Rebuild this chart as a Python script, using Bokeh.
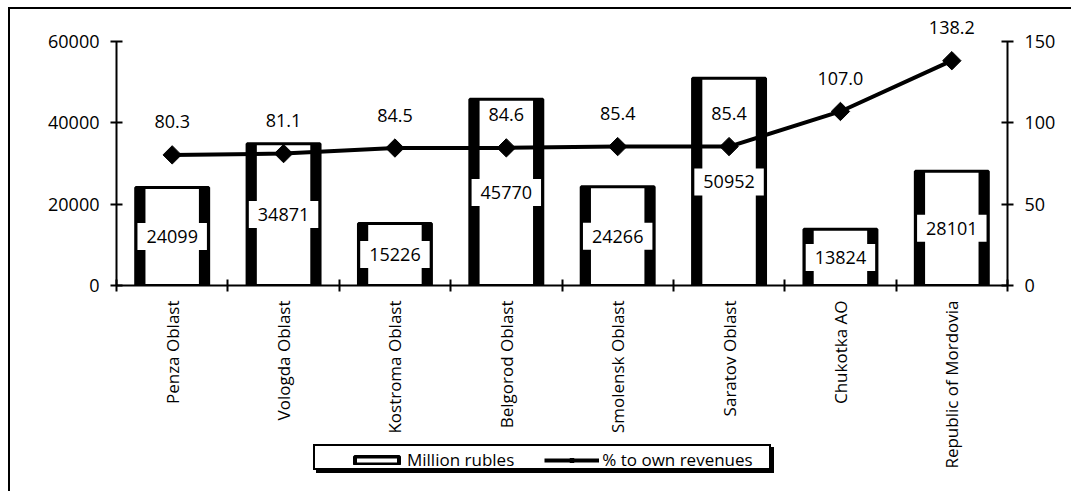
import numpy as np
from bokeh.plotting import figure
from bokeh.layouts import column
from bokeh.models import (Range1d, LinearAxis, FixedTicker, ColumnDataSource, Legend, LegendItem)
from bokeh.core.properties import value
from bokeh.embed import file_html
from bokeh.resources import INLINE

regions = ["Penza Oblast", "Vologda Oblast", "Kostroma Oblast", "Belgorod Oblast",
           "Smolensk Oblast", "Saratov Oblast", "Chukotka AO", "Republic of Mordovia"]
million_rubles = [24099, 34871, 15226, 45770, 24266, 50952, 13824, 28101]
pct_own_revenues = [80.3, 81.1, 84.5, 84.6, 85.4, 85.4, 107.0, 138.2]
left_ticks = [0, 20000, 40000, 60000]
right_ticks = [0, 50, 100, 150]
series_names = ["Million rubles", "% to own revenues"]

FONT = "Open Sans"
FS_TXT = "17px"
FS_NUM = "18px"

n = len(regions)
xc = [i + 0.5 for i in range(n)]
src = ColumnDataSource(dict(
    x=xc,
    val=million_rubles,
    mid=[v / 2 for v in million_rubles],
    lab=[str(v) for v in million_rubles],
    pct=pct_own_revenues,
    plab=["%.1f" % v for v in pct_own_revenues],
))

# frame is taller than the axes (room for the top value label); axes stop at their last tick
FRAME_H = 267
AXIS_H = 244
lmax = left_ticks[-1] * FRAME_H / AXIS_H
rmax = right_ticks[-1] * FRAME_H / AXIS_H

p = figure(width=1063, height=484, output_backend="svg", toolbar_location=None,
           x_range=Range1d(0, n), y_range=Range1d(0, lmax),
           min_border_left=106, min_border_right=66, min_border_top=9, min_border_bottom=208)
p.frame_align = False
p.styles = {"border-left": "2px solid black", "border-top": "2px solid black"}
p.margin = (7, 0, 0, 8)
p.extra_y_ranges = {"pct": Range1d(0, rmax)}
p.xgrid.visible = False
p.ygrid.visible = False
p.outline_line_color = None
p.background_fill_color = "white"
p.border_fill_color = "white"
p.xaxis.visible = False
p.yaxis.visible = False

def style_axis(ax, fs):
    ax.axis_line_width = 2
    ax.axis_line_color = "black"
    ax.major_tick_line_width = 2
    ax.major_tick_line_color = "black"
    ax.major_tick_in = 6
    ax.major_tick_out = 6
    ax.minor_tick_line_color = None
    ax.major_label_text_font = FONT
    ax.major_label_text_font_size = fs
    ax.major_label_text_color = "black"

yl = LinearAxis(ticker=FixedTicker(ticks=left_ticks), bounds=(left_ticks[0], left_ticks[-1]))
style_axis(yl, FS_NUM)
yl.major_label_standoff = 11
p.add_layout(yl, "left")

yr = LinearAxis(y_range_name="pct", ticker=FixedTicker(ticks=right_ticks),
                bounds=(right_ticks[0], right_ticks[-1]))
style_axis(yr, FS_NUM)
yr.major_label_standoff = 11
p.add_layout(yr, "right")

xa = LinearAxis(ticker=FixedTicker(ticks=xc, minor_ticks=list(range(n + 1))))
style_axis(xa, FS_TXT)
xa.major_tick_line_color = None
xa.minor_tick_line_color = "black"
xa.minor_tick_line_width = 2
xa.minor_tick_in = 6
xa.minor_tick_out = 6
xa.major_label_orientation = np.pi / 2
xa.major_label_standoff = 9
xa.major_label_overrides = {x: r for x, r in zip(xc, regions)}
p.add_layout(xa, "below")

# bars
p.vbar(x="x", top="val", bottom=0, width=0.655, source=src, fill_color="black", line_color=None)
p.vbar(x="x", top="val", bottom=0, width=0.48, source=src, fill_color="white", line_color=None)
p.vbar(x="x", top="val", bottom=0, width=0.655, source=src, fill_alpha=0,
       line_color="black", line_width=3)
p.text(x="x", y="mid", text="lab", source=src, text_align="center", text_baseline="middle",
       text_font=value(FONT), text_font_size=FS_NUM, text_color="black",
       background_fill_color="white", padding=dict(left=9, right=9, top=7, bottom=7))

# line
p.line(x="x", y="pct", source=src, y_range_name="pct", line_color="black", line_width=4)
p.scatter(x="x", y="pct", source=src, y_range_name="pct", marker="square", angle=np.pi / 4,
          size=13, fill_color="black", line_color="black")
p.text(x="x", y="pct", text="plab", source=src, y_range_name="pct", y_offset=-33,
       text_align="center", text_baseline="middle",
       text_font=value(FONT), text_font_size=FS_NUM, text_color="black")

# legend panel (its own small figure, laid over the bottom of the chart)
q = figure(width=458, height=26, output_backend="svg", toolbar_location=None,
           x_range=Range1d(-2, -1), y_range=Range1d(-2, -1),
           x_axis_location=None, y_axis_location=None,
           min_border_left=0, min_border_right=0, min_border_top=0, min_border_bottom=0)
q.frame_align = False
q.styles = {"border": "2px solid black", "box-shadow": "3px 3px 0 black"}
q.margin = (-47, 0, 0, 313)
q.xgrid.visible = False
q.ygrid.visible = False
q.outline_line_color = None
lb = q.vbar(x="x", top="val", bottom=0, width=0.5, source=src, fill_color="white",
            line_color="black", line_width=4)
ll = q.line(x="x", y="pct", source=src, line_color="black", line_width=4)
lm = q.scatter(x="x", y="pct", source=src, marker="square", angle=np.pi / 4, size=7,
               fill_color="black", line_color="black")
legend = Legend(items=[LegendItem(label=series_names[0], renderers=[lb]),
                       LegendItem(label=series_names[1], renderers=[ll, lm])],
                orientation="horizontal", location=(34, 1),
                glyph_width=55, glyph_height=10, label_standoff=3, spacing=30, padding=0, margin=0,
                label_text_font=FONT, label_text_font_size=FS_TXT, label_text_color="black",
                border_line_color=None, background_fill_alpha=0)
q.add_layout(legend, "center")

layout = column(p, q, spacing=0)
open("out.html", "w").write(file_html(layout, INLINE))
